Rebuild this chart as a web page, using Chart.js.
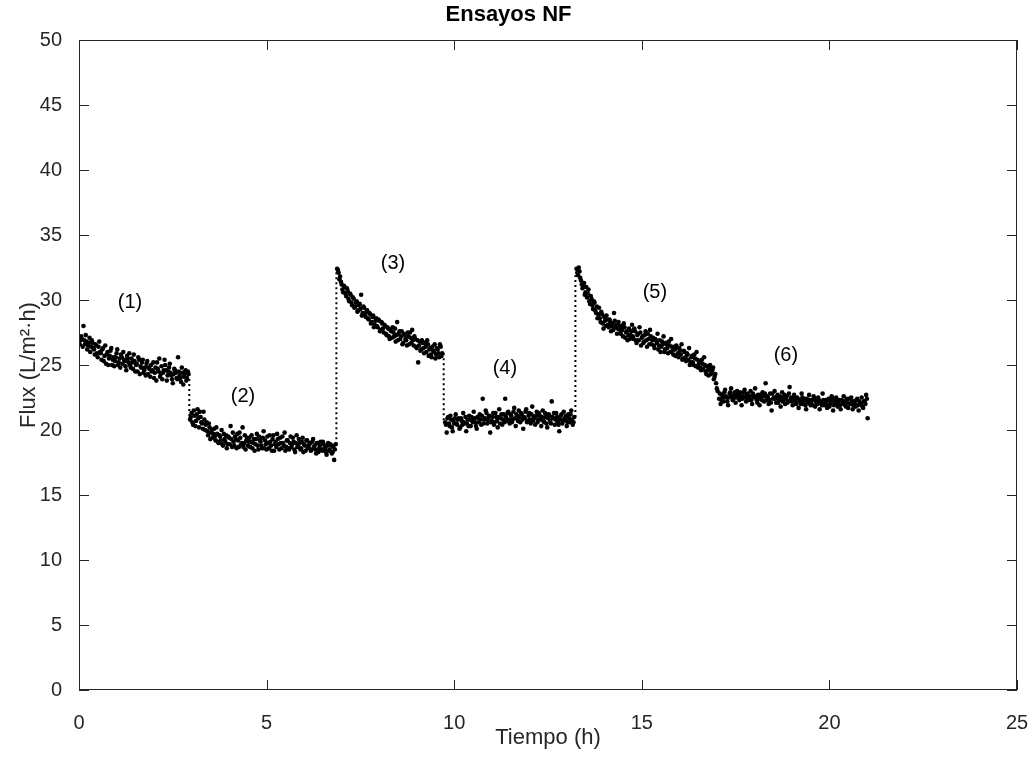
<!DOCTYPE html>
<html>
<head>
<meta charset="utf-8">
<title>Ensayos NF</title>
<script src="https://cdn.jsdelivr.net/npm/chart.js@4.4.1/dist/chart.umd.min.js"></script>
<style>
  html, body { margin: 0; padding: 0; background: #fff; }
  #wrap { width: 1030px; height: 757px; }
</style>
</head>
<body>
<div id="wrap"><canvas id="myChart" width="1030" height="757"></canvas></div>
<script>
// axis ticks
const xTicks = [0, 5, 10, 15, 20, 25];
const yTicks = [0, 5, 10, 15, 20, 25, 30, 35, 40, 45, 50];

// (1) first run
const time1 = [0.02,0.04,0.06,0.08,0.10,0.12,0.14,0.16,0.18,0.20,0.22,0.24,0.26,0.28,0.30,0.32,0.34,0.36,0.38,0.40,
  0.42,0.44,0.46,0.48,0.50,0.52,0.54,0.56,0.58,0.60,0.62,0.64,0.66,0.68,0.70,0.72,0.74,0.76,0.78,0.80,
  0.82,0.84,0.86,0.88,0.90,0.92,0.94,0.96,0.98,1.00,1.02,1.04,1.06,1.08,1.10,1.12,1.14,1.16,1.18,1.20,
  1.22,1.24,1.26,1.28,1.30,1.32,1.34,1.36,1.38,1.40,1.42,1.44,1.46,1.48,1.50,1.52,1.54,1.56,1.58,1.60,
  1.62,1.64,1.66,1.68,1.70,1.72,1.74,1.76,1.78,1.80,1.82,1.84,1.86,1.88,1.90,1.92,1.94,1.96,1.98,2.00,
  2.02,2.04,2.06,2.08,2.10,2.12,2.14,2.16,2.18,2.20,2.22,2.24,2.26,2.28,2.30,2.32,2.34,2.36,2.38,2.40,
  2.42,2.44,2.46,2.48,2.50,2.52,2.54,2.56,2.58,2.60,2.62,2.64,2.66,2.68,2.70,2.72,2.74,2.76,2.78,2.80,
  2.82,2.84,2.86,2.88,2.90,2.92];
const flux1 = [26.6,26.9,27.2,27.0,26.4,28.0,26.9,26.6,27.3,26.8,26.2,26.5,26.7,27.1,26.0,26.4,26.9,26.7,26.3,26.2,
  25.8,26.6,26.5,25.9,25.6,26.4,26.8,26.0,25.9,25.4,26.2,26.3,25.3,25.7,26.5,25.1,25.8,26.0,25.0,25.5,
  25.7,26.1,26.3,25.0,25.4,25.6,24.9,25.3,25.6,25.9,26.2,25.0,25.2,25.5,24.8,25.8,25.6,25.1,26.0,25.4,
  25.3,24.9,24.6,25.7,25.5,25.2,25.9,25.0,24.8,25.5,25.2,24.7,25.8,25.3,24.5,25.0,25.1,24.5,25.6,25.4,
  24.3,24.9,24.8,25.2,25.4,24.4,24.6,24.8,24.2,25.1,25.3,24.3,24.8,24.7,24.1,25.0,24.5,24.6,25.2,24.0,
  24.4,24.8,23.8,25.2,24.7,24.5,25.5,24.1,24.3,24.9,23.9,24.4,24.6,25.4,25.0,24.6,23.8,24.2,24.5,24.8,
  25.1,24.4,24.2,23.9,23.6,24.3,24.7,24.6,24.4,24.0,23.9,25.6,24.5,24.2,24.0,23.7,24.8,24.4,23.5,24.1,
  24.3,24.6,23.8,24.0,24.5,24.3];

// (2)
const time2 = [2.96,2.98,3.00,3.02,3.04,3.06,3.08,3.10,3.12,3.14,3.16,3.18,3.20,3.22,3.24,3.26,3.28,3.30,3.32,3.34,
  3.36,3.38,3.40,3.42,3.44,3.46,3.48,3.50,3.52,3.54,3.56,3.58,3.60,3.62,3.64,3.66,3.68,3.70,3.72,3.74,
  3.76,3.78,3.80,3.82,3.84,3.86,3.88,3.90,3.92,3.94,3.96,3.98,4.00,4.02,4.04,4.06,4.08,4.10,4.12,4.14,
  4.16,4.18,4.20,4.22,4.24,4.26,4.28,4.30,4.32,4.34,4.36,4.38,4.40,4.42,4.44,4.46,4.48,4.50,4.52,4.54,
  4.56,4.58,4.60,4.62,4.64,4.66,4.68,4.70,4.72,4.74,4.76,4.78,4.80,4.82,4.84,4.86,4.88,4.90,4.92,4.94,
  4.96,4.98,5.00,5.02,5.04,5.06,5.08,5.10,5.12,5.14,5.16,5.18,5.20,5.22,5.24,5.26,5.28,5.30,5.32,5.34,
  5.36,5.38,5.40,5.42,5.44,5.46,5.48,5.50,5.52,5.54,5.56,5.58,5.60,5.62,5.64,5.66,5.68,5.70,5.72,5.74,
  5.76,5.78,5.80,5.82,5.84,5.86,5.88,5.90,5.92,5.94,5.96,5.98,6.00,6.02,6.04,6.06,6.08,6.10,6.12,6.14,
  6.16,6.18,6.20,6.22,6.24,6.26,6.28,6.30,6.32,6.34,6.36,6.38,6.40,6.42,6.44,6.46,6.48,6.50,6.52,6.54,
  6.56,6.58,6.60,6.62,6.64,6.66,6.68,6.70,6.72,6.74,6.76,6.78,6.80,6.82,6.84];
const flux2 = [20.8,21.0,21.3,20.6,20.4,21.5,21.1,20.3,20.7,21.2,21.6,20.9,20.2,21.4,21.0,20.6,20.5,20.1,21.4,20.8,
  20.0,20.4,20.6,19.9,19.6,20.5,20.2,19.3,19.8,20.0,19.4,19.7,20.1,19.5,19.2,20.2,19.7,19.1,19.0,19.6,
  19.5,19.2,20.0,18.9,18.8,19.7,19.3,19.1,19.6,18.6,18.9,19.5,19.4,18.9,20.3,19.3,18.7,19.8,19.1,18.8,
  19.5,19.3,18.6,19.7,19.2,18.7,19.8,19.4,18.9,19.0,20.2,18.7,19.0,19.6,18.5,19.2,19.4,18.8,19.1,19.4,
  18.7,19.1,19.6,18.6,19.0,19.3,18.4,18.9,19.3,19.7,18.8,18.5,19.5,19.2,19.1,18.8,18.6,19.4,19.9,18.6,
  19.2,18.9,18.5,19.5,19.0,18.6,19.6,19.1,18.8,18.4,19.3,19.6,18.4,18.9,19.1,18.7,19.7,19.3,18.9,18.5,
  19.4,19.0,18.6,19.5,19.0,18.8,19.8,18.4,18.7,19.2,19.2,18.6,18.5,19.0,19.5,18.7,18.9,19.4,19.1,18.5,
  18.3,19.0,19.6,18.7,18.8,19.3,19.0,18.5,18.6,19.1,19.4,18.3,18.9,18.8,18.4,19.2,19.2,18.6,18.7,18.9,
  19.0,18.4,18.5,19.1,19.3,18.7,18.8,18.5,18.2,19.0,19.0,18.3,18.6,18.8,19.1,18.5,18.4,19.1,18.9,18.6,
  18.6,18.3,18.1,18.8,19.0,18.4,18.5,18.9,18.8,18.2,18.3,18.7,17.7,18.5,18.9];

// (3)
const time3 = [6.88,6.90,6.92,6.94,6.96,6.98,7.00,7.02,7.04,7.06,7.08,7.10,7.12,7.14,7.16,7.18,7.20,7.22,7.24,7.26,
  7.28,7.30,7.32,7.34,7.36,7.38,7.40,7.42,7.44,7.46,7.48,7.50,7.52,7.54,7.56,7.58,7.60,7.62,7.64,7.66,
  7.68,7.70,7.72,7.74,7.76,7.78,7.80,7.82,7.84,7.86,7.88,7.90,7.92,7.94,7.96,7.98,8.00,8.02,8.04,8.06,
  8.08,8.10,8.12,8.14,8.16,8.18,8.20,8.22,8.24,8.26,8.28,8.30,8.32,8.34,8.36,8.38,8.40,8.42,8.44,8.46,
  8.48,8.50,8.52,8.54,8.56,8.58,8.60,8.62,8.64,8.66,8.68,8.70,8.72,8.74,8.76,8.78,8.80,8.82,8.84,8.86,
  8.88,8.90,8.92,8.94,8.96,8.98,9.00,9.02,9.04,9.06,9.08,9.10,9.12,9.14,9.16,9.18,9.20,9.22,9.24,9.26,
  9.28,9.30,9.32,9.34,9.36,9.38,9.40,9.42,9.44,9.46,9.48,9.50,9.52,9.54,9.56,9.58,9.60,9.62,9.64,9.66,
  9.68];
const flux3 = [32.4,32.3,32.1,31.6,31.8,31.4,31.2,30.8,30.6,31.1,31.0,30.5,30.3,30.9,30.7,30.1,29.9,30.5,30.4,29.8,
  29.6,30.2,30.1,29.4,29.5,29.8,29.9,29.1,29.2,29.6,29.7,29.3,30.4,28.8,29.0,29.5,29.4,28.9,28.7,29.1,
  29.2,28.6,28.5,29.0,28.9,28.2,28.3,28.7,28.8,27.9,28.1,28.4,28.6,28.0,27.9,28.5,28.4,27.6,27.7,28.3,
  28.2,27.8,27.5,28.1,28.0,27.4,27.3,27.9,27.8,27.2,27.0,27.7,27.6,27.1,27.9,27.5,27.2,27.8,26.8,27.3,
  28.3,26.9,27.4,27.6,27.0,27.2,27.6,26.6,26.7,27.4,27.3,27.0,26.9,26.5,27.5,27.2,26.6,27.5,27.1,26.7,
  27.7,26.9,26.5,27.2,27.0,26.4,26.3,26.9,25.2,26.5,26.8,26.1,26.2,26.9,26.7,26.3,25.9,26.7,26.4,26.0,
  26.9,26.6,25.7,26.2,26.3,25.8,25.6,26.4,26.1,26.0,26.6,25.5,25.8,26.3,26.2,25.9,25.6,26.6,26.4,25.7,
  25.9];

// (4)
const time4 = [9.76,9.78,9.80,9.82,9.84,9.86,9.88,9.90,9.92,9.94,9.96,9.98,10.00,10.02,10.04,10.06,10.08,10.10,10.12,10.14,
  10.16,10.18,10.20,10.22,10.24,10.26,10.28,10.30,10.32,10.34,10.36,10.38,10.40,10.42,10.44,10.46,10.48,10.50,10.52,10.54,
  10.56,10.58,10.60,10.62,10.64,10.66,10.68,10.70,10.72,10.74,10.76,10.78,10.80,10.82,10.84,10.86,10.88,10.90,10.92,10.94,
  10.96,10.98,11.00,11.02,11.04,11.06,11.08,11.10,11.12,11.14,11.16,11.18,11.20,11.22,11.24,11.26,11.28,11.30,11.32,11.34,
  11.36,11.38,11.40,11.42,11.44,11.46,11.48,11.50,11.52,11.54,11.56,11.58,11.60,11.62,11.64,11.66,11.68,11.70,11.72,11.74,
  11.76,11.78,11.80,11.82,11.84,11.86,11.88,11.90,11.92,11.94,11.96,11.98,12.00,12.02,12.04,12.06,12.08,12.10,12.12,12.14,
  12.16,12.18,12.20,12.22,12.24,12.26,12.28,12.30,12.32,12.34,12.36,12.38,12.40,12.42,12.44,12.46,12.48,12.50,12.52,12.54,
  12.56,12.58,12.60,12.62,12.64,12.66,12.68,12.70,12.72,12.74,12.76,12.78,12.80,12.82,12.84,12.86,12.88,12.90,12.92,12.94,
  12.96,12.98,13.00,13.02,13.04,13.06,13.08,13.10,13.12,13.14,13.16,13.18,13.20];
const flux4 = [20.6,20.4,19.8,20.9,21.0,20.5,20.3,21.1,20.8,20.2,19.9,20.7,20.5,20.9,21.2,20.5,20.4,20.8,20.9,20.1,
  20.2,20.9,20.7,20.4,21.3,20.6,20.5,21.0,19.9,20.5,20.8,20.3,21.1,20.8,20.3,21.0,20.7,20.6,21.4,20.9,
  20.6,20.3,20.1,21.0,20.9,20.6,21.2,20.8,20.4,21.1,22.4,20.5,20.8,20.9,21.5,21.3,20.5,20.7,21.0,21.1,
  19.8,20.6,20.7,21.0,21.3,20.4,20.6,21.3,21.0,20.7,20.2,21.0,21.6,20.5,20.9,21.2,20.4,20.8,21.2,20.6,
  22.4,21.0,20.7,21.3,21.4,20.8,20.5,21.2,21.1,20.6,20.8,21.4,21.7,20.9,20.3,21.2,21.0,20.7,21.5,21.0,
  20.6,21.3,21.2,20.8,20.1,21.0,20.9,21.4,21.6,20.6,20.7,21.1,21.3,20.8,20.5,21.2,21.8,20.7,21.0,20.9,
  20.4,21.1,21.4,20.6,20.8,21.3,21.1,20.8,20.3,21.0,21.5,20.7,20.6,21.3,21.0,20.5,20.2,20.9,21.2,21.1,
  20.7,20.5,22.2,21.0,20.9,21.3,20.4,20.8,21.3,21.0,20.6,20.4,19.9,20.8,21.1,21.2,20.5,20.7,21.4,20.9,
  20.8,21.1,20.3,20.6,21.2,20.9,20.6,21.2,21.5,20.8,20.4,20.6,21.0];

// (5)
const time5 = [13.26,13.28,13.30,13.32,13.34,13.36,13.38,13.40,13.42,13.44,13.46,13.48,13.50,13.52,13.54,13.56,13.58,13.60,13.62,13.64,
  13.66,13.68,13.70,13.72,13.74,13.76,13.78,13.80,13.82,13.84,13.86,13.88,13.90,13.92,13.94,13.96,13.98,14.00,14.02,14.04,
  14.06,14.08,14.10,14.12,14.14,14.16,14.18,14.20,14.22,14.24,14.26,14.28,14.30,14.32,14.34,14.36,14.38,14.40,14.42,14.44,
  14.46,14.48,14.50,14.52,14.54,14.56,14.58,14.60,14.62,14.64,14.66,14.68,14.70,14.72,14.74,14.76,14.78,14.80,14.82,14.84,
  14.86,14.88,14.90,14.92,14.94,14.96,14.98,15.00,15.02,15.04,15.06,15.08,15.10,15.12,15.14,15.16,15.18,15.20,15.22,15.24,
  15.26,15.28,15.30,15.32,15.34,15.36,15.38,15.40,15.42,15.44,15.46,15.48,15.50,15.52,15.54,15.56,15.58,15.60,15.62,15.64,
  15.66,15.68,15.70,15.72,15.74,15.76,15.78,15.80,15.82,15.84,15.86,15.88,15.90,15.92,15.94,15.96,15.98,16.00,16.02,16.04,
  16.06,16.08,16.10,16.12,16.14,16.16,16.18,16.20,16.22,16.24,16.26,16.28,16.30,16.32,16.34,16.36,16.38,16.40,16.42,16.44,
  16.46,16.48,16.50,16.52,16.54,16.56,16.58,16.60,16.62,16.64,16.66,16.68,16.70,16.72,16.74,16.76,16.78,16.80,16.82,16.84,
  16.86,16.88,16.90,16.92,16.94,16.96,16.98,17.00,17.02];
const flux5 = [32.4,32.1,31.9,32.5,32.2,31.7,31.5,31.2,30.9,31.0,31.3,30.4,30.6,31.0,30.2,30.5,30.8,29.9,29.7,30.3,
  30.1,29.6,29.3,29.9,29.8,29.2,29.0,29.5,28.6,28.9,29.4,28.6,28.3,29.1,28.9,28.2,27.8,28.7,28.4,28.0,
  28.8,28.5,28.1,27.9,28.5,28.3,27.6,28.0,28.2,27.7,29.0,28.4,27.9,28.1,27.4,27.8,28.3,28.0,27.7,27.4,
  28.0,27.7,27.2,28.2,27.9,27.1,27.5,27.6,26.9,27.3,27.8,27.0,27.3,27.6,28.1,27.2,27.0,27.8,27.6,26.9,
  26.7,27.3,27.4,26.9,27.9,27.5,26.5,27.1,27.2,26.7,26.8,27.3,27.6,26.9,26.4,27.4,27.0,26.6,27.7,27.2,
  26.6,26.9,27.1,26.5,26.3,27.0,26.9,26.7,27.4,26.2,26.5,26.9,26.0,26.4,26.8,26.6,27.2,26.0,26.2,26.7,
  26.6,26.3,25.9,26.8,26.5,26.0,27.0,26.4,26.1,25.8,26.4,26.2,25.7,26.5,26.3,25.9,25.6,26.3,26.1,25.8,
  26.6,25.4,25.5,26.1,26.0,25.6,25.3,25.9,25.8,25.4,26.3,25.0,25.2,25.6,25.7,25.2,25.0,25.8,25.5,24.9,
  26.0,25.4,24.8,25.1,25.3,24.8,24.6,25.4,25.1,24.7,25.6,25.0,24.5,24.3,24.9,24.6,24.2,24.7,25.0,24.3,
  24.4,24.6,24.8,23.9,24.1,24.3,23.6,23.2,23.0];

// (6)
const time6 = [17.06,17.08,17.10,17.12,17.14,17.16,17.18,17.20,17.22,17.24,17.26,17.28,17.30,17.32,17.34,17.36,17.38,17.40,17.42,17.44,
  17.46,17.48,17.50,17.52,17.54,17.56,17.58,17.60,17.62,17.64,17.66,17.68,17.70,17.72,17.74,17.76,17.78,17.80,17.82,17.84,
  17.86,17.88,17.90,17.92,17.94,17.96,17.98,18.00,18.02,18.04,18.06,18.08,18.10,18.12,18.14,18.16,18.18,18.20,18.22,18.24,
  18.26,18.28,18.30,18.32,18.34,18.36,18.38,18.40,18.42,18.44,18.46,18.48,18.50,18.52,18.54,18.56,18.58,18.60,18.62,18.64,
  18.66,18.68,18.70,18.72,18.74,18.76,18.78,18.80,18.82,18.84,18.86,18.88,18.90,18.92,18.94,18.96,18.98,19.00,19.02,19.04,
  19.06,19.08,19.10,19.12,19.14,19.16,19.18,19.20,19.22,19.24,19.26,19.28,19.30,19.32,19.34,19.36,19.38,19.40,19.42,19.44,
  19.46,19.48,19.50,19.52,19.54,19.56,19.58,19.60,19.62,19.64,19.66,19.68,19.70,19.72,19.74,19.76,19.78,19.80,19.82,19.84,
  19.86,19.88,19.90,19.92,19.94,19.96,19.98,20.00,20.02,20.04,20.06,20.08,20.10,20.12,20.14,20.16,20.18,20.20,20.22,20.24,
  20.26,20.28,20.30,20.32,20.34,20.36,20.38,20.40,20.42,20.44,20.46,20.48,20.50,20.52,20.54,20.56,20.58,20.60,20.62,20.64,
  20.66,20.68,20.70,20.72,20.74,20.76,20.78,20.80,20.82,20.84,20.86,20.88,20.90,20.92,20.94,20.96,20.98,21.00,21.02];
const flux6 = [22.4,22.8,22.0,22.3,22.7,22.5,22.2,22.9,23.1,22.6,22.5,22.2,21.9,22.5,22.8,22.9,23.2,22.6,22.3,22.4,
  22.7,22.9,22.1,22.5,23.0,22.7,22.5,22.3,22.9,22.6,21.9,22.4,22.6,22.9,23.1,22.5,22.2,22.7,22.8,22.3,
  22.4,22.6,23.0,22.3,22.0,22.8,22.6,22.5,23.2,22.6,22.3,22.1,22.7,22.4,21.9,22.7,22.5,22.3,22.9,22.6,
  22.2,22.8,23.6,22.3,22.6,22.5,22.0,22.3,22.8,22.1,21.5,22.8,22.4,22.5,23.0,22.4,22.1,22.6,22.7,22.1,
  22.3,22.6,21.8,22.5,22.9,22.2,22.4,22.7,22.0,22.4,22.6,22.1,22.2,22.8,23.3,22.3,22.5,22.2,21.9,22.5,
  22.7,22.3,22.1,22.0,22.5,22.4,21.7,22.2,22.3,22.0,22.8,22.5,22.0,22.2,22.4,21.9,21.6,22.4,22.2,22.1,
  22.7,22.3,21.9,22.2,22.3,21.9,22.6,22.4,21.8,22.2,22.1,22.0,22.5,22.3,21.6,22.1,22.2,21.9,22.8,22.3,
  21.9,22.1,22.3,22.0,21.7,22.3,22.4,21.8,22.0,22.2,22.6,22.4,21.5,21.9,22.1,22.3,22.5,22.1,21.8,22.0,
  22.3,21.9,21.6,22.3,22.2,22.0,22.6,22.2,21.9,21.8,22.4,22.1,21.7,22.4,22.0,22.0,22.5,22.2,21.6,21.9,
  22.2,22.0,21.8,22.3,22.4,21.9,21.5,22.2,22.1,22.0,22.5,21.8,21.7,22.2,22.2,22.0,22.7,22.4,20.9];

// step changes between runs (dotted)
const transTime = [2.94, 6.86, 9.72, 13.23];
const transFrom = [24.3, 18.9, 25.9, 21.0];
const transTo = [21.0, 32.4, 20.7, 31.9];

// run labels
const stageLabels = ['(1)', '(2)', '(3)', '(4)', '(5)', '(6)'];
const stageX = [1.36, 4.37, 8.37, 11.35, 15.35, 18.84];
const stageY = [29.8, 22.6, 32.8, 24.7, 30.6, 25.7];

const FONT = "'Liberation Sans', Arial, Helvetica, sans-serif";
const AXIS = '#262626';

const runs = [[time1, flux1], [time2, flux2], [time3, flux3], [time4, flux4], [time5, flux5], [time6, flux6]];
const points = [];
runs.forEach(([t, f]) => t.forEach((v, i) => points.push({ x: v, y: f[i] })));

const datasets = [{
    label: 'Flux',
    data: points,
    showLine: false,
    pointRadius: 2.3,
    pointBorderWidth: 0,
    pointBackgroundColor: '#000',
    pointHoverRadius: 2.3
}];

transTime.forEach((t, i) => {
    datasets.push({
        label: 'step' + i,
        data: [{ x: t, y: transFrom[i] }, { x: t, y: transTo[i] }],
        showLine: true,
        borderColor: '#000',
        borderWidth: 2,
        borderDash: [2, 3],
        pointRadius: 0
    });
});

// box + inward ticks on every side, like the original figure
const boxTicks = {
    id: 'boxTicks',
    afterDraw(chart) {
        const { ctx, chartArea: a, scales } = chart;
        ctx.save();
        ctx.strokeStyle = AXIS;
        ctx.lineWidth = 1;
        ctx.strokeRect(a.left + 0.5, a.top + 0.5, a.right - a.left - 1, a.bottom - a.top - 1);
        ctx.beginPath();
        xTicks.forEach(v => {
            const px = Math.round(scales.x.getPixelForValue(v)) + 0.5;
            ctx.moveTo(px, a.bottom); ctx.lineTo(px, a.bottom - 10);
            ctx.moveTo(px, a.top); ctx.lineTo(px, a.top + 10);
        });
        yTicks.forEach(v => {
            const py = Math.round(scales.y.getPixelForValue(v)) + 0.5;
            ctx.moveTo(a.left, py); ctx.lineTo(a.left + 10, py);
            ctx.moveTo(a.right, py); ctx.lineTo(a.right - 10, py);
        });
        ctx.stroke();
        ctx.restore();
    }
};

const stageText = {
    id: 'stageText',
    afterDatasetsDraw(chart) {
        const { ctx, scales } = chart;
        ctx.save();
        ctx.fillStyle = '#000';
        ctx.font = '20px ' + FONT;
        ctx.textAlign = 'center';
        ctx.textBaseline = 'middle';
        stageLabels.forEach((s, i) => {
            ctx.fillText(s, scales.x.getPixelForValue(stageX[i]), scales.y.getPixelForValue(stageY[i]));
        });
        ctx.restore();
    }
};

new Chart(document.getElementById('myChart'), {
    type: 'scatter',
    data: { datasets: datasets },
    plugins: [boxTicks, stageText],
    options: {
        responsive: false,
        animation: false,
        devicePixelRatio: 1,
        layout: { padding: { left: 0, right: 13, top: 0, bottom: 0 } },
        plugins: {
            legend: { display: false },
            tooltip: { enabled: false },
            title: {
                display: true,
                text: 'Ensayos NF',
                color: '#000',
                font: { family: FONT, size: 22, weight: 'bold' },
                padding: { top: 2, bottom: 11.6 }
            }
        },
        scales: {
            x: {
                type: 'linear',
                min: 0,
                max: 25,
                afterBuildTicks: s => { s.ticks = xTicks.map(v => ({ value: v })); },
                afterFit: s => { s.height = 67; s.paddingLeft = 0; s.paddingRight = 0; },
                grid: { display: false },
                border: { display: false },
                ticks: { color: AXIS, padding: 13, font: { family: FONT, size: 20 } },
                title: {
                    display: true,
                    text: 'Tiempo (h)',
                    color: AXIS,
                    font: { family: FONT, size: 22 },
                    padding: { top: 0, bottom: 6 }
                }
            },
            y: {
                type: 'linear',
                min: 0,
                max: 50,
                afterBuildTicks: s => { s.ticks = yTicks.map(v => ({ value: v })); },
                afterFit: s => { s.width = 79; s.paddingTop = 0; s.paddingBottom = 0; },
                grid: { display: false },
                border: { display: false },
                ticks: { color: AXIS, padding: 9, font: { family: FONT, size: 20 } },
                title: {
                    display: true,
                    text: 'Flux (L/m²·h)',
                    color: AXIS,
                    font: { family: FONT, size: 22 },
                    padding: { top: 16, bottom: 0 }
                }
            }
        }
    }
});
</script>
</body>
</html>
